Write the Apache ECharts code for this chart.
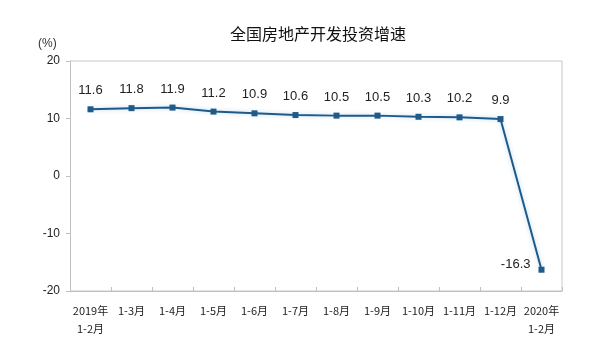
<!DOCTYPE html>
<html><head><meta charset="utf-8">
<script src="https://cdn.jsdelivr.net/npm/echarts@6/dist/echarts.min.js"></script>
<style>html,body{margin:0;padding:0;background:#fff}#c{width:608px;height:350px}</style>
</head><body><div id="c"></div>
<script>
var categories = ['2019年\n1-2月','1-3月','1-4月','1-5月','1-6月','1-7月','1-8月','1-9月','1-10月','1-11月','1-12月','2020年\n1-2月'];
var values = [11.6, 11.8, 11.9, 11.2, 10.9, 10.6, 10.5, 10.5, 10.3, 10.2, 9.9, -16.3];
var yTicks = [-20, -10, 0, 10, 20];
var title = '全国房地产开发投资增速';
var unit = '(%)';

var FONT = '"Liberation Sans","Noto Sans CJK SC",sans-serif';
var chart = echarts.init(document.getElementById('c'));
var data = values.map(function(v, i){
  var d = {value: v};
  if (i === values.length - 1) {
    d.label = {position: 'left', distance: 8, offset: [0, -5]};
  }
  return d;
});
chart.setOption({
  animation: false,
  backgroundColor: '#fff',
  title: {
    text: title, left: 318, top: 26, padding: 0, textAlign: 'center',
    textStyle: {fontSize: 16, fontWeight: 'normal', color: '#111', fontFamily: '"Noto Sans CJK SC",sans-serif'}
  },
  graphic: [
    {type: 'text', left: 38, top: 38, style: {text: unit, fontSize: 12, fill: '#333', fontFamily: FONT}},
    {type: 'rect', shape: {x: 70.5, y: 61, width: 491.5, height: 230}, style: {fill: 'none', stroke: '#c8c8c8', lineWidth: 1}, silent: true, z: 0}
  ],
  grid: {left: 70, right: 46, top: 61, bottom: 59, containLabel: false},
  xAxis: {
    type: 'category', data: categories, boundaryGap: true,
    axisLine: {show: true, onZero: false, lineStyle: {color: '#c0c0c0'}},
    axisTick: {show: true, inside: true, length: 4, alignWithLabel: false, lineStyle: {color: '#c0c0c0'}},
    axisLabel: {interval: 0, fontSize: 11, color: '#222', margin: 11, lineHeight: 18, fontFamily: '"Noto Sans CJK SC",sans-serif'},
    splitLine: {show: false}
  },
  yAxis: {
    type: 'value', min: -20, max: 20, interval: 10,
    axisLine: {show: true, lineStyle: {color: '#c0c0c0'}},
    axisTick: {show: true, length: 4, lineStyle: {color: '#c0c0c0'}},
    axisLabel: {fontSize: 12, color: '#222', margin: 10, fontFamily: FONT,
      formatter: function(v){ return yTicks.indexOf(v) >= 0 ? String(v) : ''; }},
    splitLine: {show: false}
  },
  series: [{
    type: 'line', data: data,
    symbol: 'rect', symbolSize: 6,
    lineStyle: {color: '#1f5a88', width: 2, shadowColor: 'rgba(120,180,230,0.5)', shadowBlur: 4},
    itemStyle: {color: '#1f5a88'},
    label: {show: true, position: 'top', distance: 9, fontSize: 13, color: '#222', fontFamily: FONT,
      formatter: function(p){ return p.value.toFixed(1); }}
  }]
});
</script></body></html>
